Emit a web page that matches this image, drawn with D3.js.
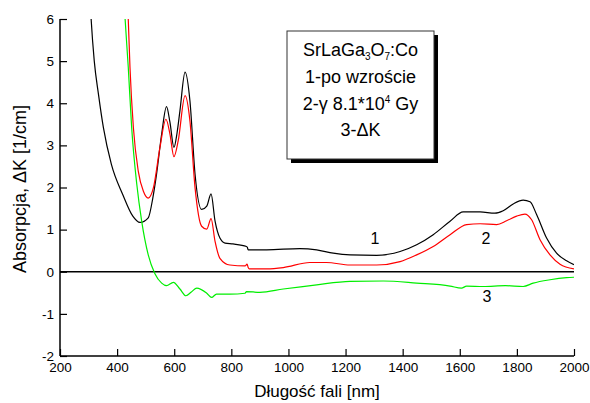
<!DOCTYPE html>
<html>
<head>
<meta charset="utf-8">
<script src="https://cdn.jsdelivr.net/npm/d3@7"></script>
<style>
body { margin: 0; background: #fff; }
text { font-family: Arial, "Liberation Sans", sans-serif; }
</style>
</head>
<body>
<script>
// wavelength [nm] and absorption [1/cm]
blackX = [300, 309, 320, 335, 352, 380, 420, 455, 480, 509, 525, 538, 556, 573, 585, 599, 610, 620, 638, 655, 673, 696, 714, 729, 743, 760, 778, 806, 853, 856, 859, 924, 1040, 1099, 1157, 1216, 1309, 1391, 1449, 1507, 1566, 1612, 1671, 1723, 1752, 1787, 1822, 1846, 1869, 1904, 1939, 1974, 2000]
blackY = [7.2, 6.0, 5.0, 4.2, 3.42, 2.55, 1.83, 1.32, 1.17, 1.28, 1.75, 2.31, 3.27, 3.92, 3.55, 2.95, 3.3, 3.82, 4.74, 4.06, 2.31, 1.48, 1.56, 1.85, 1.20, 0.80, 0.68, 0.66, 0.60, 0.58, 0.52, 0.52, 0.55, 0.52, 0.44, 0.40, 0.39, 0.48, 0.64, 0.88, 1.20, 1.42, 1.42, 1.39, 1.45, 1.61, 1.70, 1.66, 1.36, 0.80, 0.44, 0.26, 0.17]

redX = [430, 439, 445, 457, 474, 492, 509, 527, 550, 571, 585, 599, 614, 638, 655, 673, 696, 714, 729, 743, 760, 795, 848, 855, 859, 863, 924, 982, 1075, 1133, 1216, 1309, 1391, 1449, 1507, 1566, 1624, 1671, 1729, 1764, 1799, 1828, 1851, 1881, 1916, 1951, 2000]
redY = [7.0, 6.0, 4.86, 3.42, 2.39, 1.91, 1.75, 1.99, 2.95, 3.62, 3.27, 2.73, 3.11, 4.18, 3.58, 1.99, 1.08, 1.01, 1.26, 0.72, 0.32, 0.16, 0.14, 0.18, 0.10, 0.07, 0.07, 0.10, 0.22, 0.22, 0.16, 0.16, 0.24, 0.40, 0.60, 0.88, 1.12, 1.14, 1.12, 1.21, 1.32, 1.37, 1.24, 0.76, 0.40, 0.18, 0.07]

greenX = [420, 428, 439, 451, 469, 486, 509, 532, 556, 573, 597, 620, 641, 660, 679, 714, 731, 748, 795, 848, 853, 900, 982, 1099, 1216, 1332, 1449, 1566, 1606, 1624, 1682, 1760, 1822, 1857, 1916, 1974, 2000]
greenY = [7.0, 6.0, 4.86, 3.42, 2.07, 1.20, 0.40, -0.04, -0.27, -0.33, -0.25, -0.41, -0.57, -0.48, -0.39, -0.51, -0.61, -0.53, -0.53, -0.51, -0.47, -0.49, -0.41, -0.31, -0.23, -0.22, -0.27, -0.34, -0.39, -0.34, -0.35, -0.33, -0.35, -0.27, -0.19, -0.14, -0.13]

xTicks = [200, 400, 600, 800, 1000, 1200, 1400, 1600, 1800, 2000]
yTicks = [-2, -1, 0, 1, 2, 3, 4, 5, 6]

curveLabels = [
        { text: "1", x: 1303, y: 0.66 },
        { text: "2", x: 1692, y: 0.66 },
        { text: "3", x: 1695, y: -0.72 }
]

var w = 590, h = 403
var pLeft = 60, pRight = 574, pTop = 19, pBottom = 356

svg = d3.select("body").append("svg")
        .attr("width", w)
        .attr("height", h)

x = d3.scaleLinear().domain([200, 2000]).range([pLeft, pRight])
y = d3.scaleLinear().domain([-2, 6]).range([pBottom, pTop])

svg.append("clipPath").attr("id", "plot")
        .append("rect")
        .attr("x", pLeft).attr("y", pTop)
        .attr("width", pRight - pLeft).attr("height", pBottom - pTop)

// zero line
svg.append("line")
        .attr("x1", x(200)).attr("x2", x(2000))
        .attr("y1", y(0)).attr("y2", y(0))
        .attr("stroke", "black").attr("stroke-width", 1.5)

line = d3.line()
        .x(function(d) { return x(d[0]) })
        .y(function(d) { return y(d[1]) })
        .curve(d3.curveMonotoneX)

series = [
        { xs: blackX, ys: blackY, color: "black" },
        { xs: redX, ys: redY, color: "#ff0000" },
        { xs: greenX, ys: greenY, color: "#00ee00" }
]

curves = svg.append("g").attr("clip-path", "url(#plot)")
curves.selectAll("path").data(series)
        .enter().append("path")
        .attr("fill", "none")
        .attr("stroke", function(d) { return d.color })
        .attr("stroke-width", 1.2)
        .attr("d", function(d) {
                return line(d.xs.map(function(v, i) { return [v, d.ys[i]] }))
        })

// axes, ticks point inward
xAxis = svg.append("g").attr("transform", "translate(0," + pBottom + ")")
xAxis.call(d3.axisBottom(x).tickValues(d3.range(300, 2000, 200)).tickSize(-4).tickFormat(""))
xAxis.call(d3.axisBottom(x).tickValues(xTicks).tickSize(-7).tickFormat(function(d) { return String(d) }))
xAxis.selectAll("text").attr("font-size", 13.5).attr("dy", "1.05em").attr("y", 2)

yAxis = svg.append("g").attr("transform", "translate(" + pLeft + ",0)")
yAxis.call(d3.axisLeft(y).tickValues(d3.range(-1.5, 6, 1)).tickSize(-4).tickFormat(""))
yAxis.call(d3.axisLeft(y).tickValues(yTicks).tickSize(-7).tickFormat(function(d) { return String(d) }))
yAxis.selectAll("text").attr("font-size", 13.5).attr("x", -6)

svg.selectAll(".domain").attr("stroke-width", 1.5)
xAxis.selectAll(".domain").attr("d", "M" + pLeft + ",0H" + pRight)
yAxis.selectAll(".domain").attr("d", "M0," + pTop + "V" + pBottom)
svg.selectAll(".tick line").attr("stroke-width", 1.2)

svg.append("text")
        .attr("x", (pLeft + pRight) / 2).attr("y", 397)
        .attr("text-anchor", "middle").attr("font-size", 17)
        .text("Długość fali [nm]")

svg.append("text")
        .attr("transform", "translate(26,189) rotate(-90)")
        .attr("text-anchor", "middle").attr("font-size", 18)
        .text("Absorpcja, ΔK [1/cm]")

svg.selectAll(".clabel").data(curveLabels)
        .enter().append("text")
        .attr("class", "clabel")
        .attr("x", function(d) { return x(d.x) })
        .attr("y", function(d) { return y(d.y) })
        .attr("text-anchor", "middle").attr("font-size", 16)
        .text(function(d) { return d.text })

// legend box with shadow
var bx = 287, by = 31, bw = 147, bh = 128
svg.append("rect").attr("x", bx + 4).attr("y", by + 4)
        .attr("width", bw).attr("height", bh).attr("fill", "black")
svg.append("rect").attr("x", bx).attr("y", by)
        .attr("width", bw).attr("height", bh)
        .attr("fill", "white").attr("stroke", "#333").attr("stroke-width", 1)

var cx = bx + bw / 2, fs = 18
t1 = svg.append("text").attr("x", cx).attr("y", 56)
        .attr("text-anchor", "middle").attr("font-size", fs)
t1.append("tspan").text("SrLaGa")
t1.append("tspan").attr("dy", 4).attr("font-size", 10).text("3")
t1.append("tspan").attr("dy", -4).text("O")
t1.append("tspan").attr("dy", 4).attr("font-size", 10).text("7")
t1.append("tspan").attr("dy", -4).text(":Co")

svg.append("text").attr("x", cx).attr("y", 83)
        .attr("text-anchor", "middle").attr("font-size", fs)
        .text("1-po wzroście")

t3 = svg.append("text").attr("x", cx).attr("y", 110)
        .attr("text-anchor", "middle").attr("font-size", fs)
t3.append("tspan").text("2-γ 8.1*10")
t3.append("tspan").attr("dy", -7).attr("font-size", 10).text("4")
t3.append("tspan").attr("dy", 7).text(" Gy")

svg.append("text").attr("x", cx).attr("y", 136)
        .attr("text-anchor", "middle").attr("font-size", fs)
        .text("3-ΔK")
</script>
</body>
</html>
